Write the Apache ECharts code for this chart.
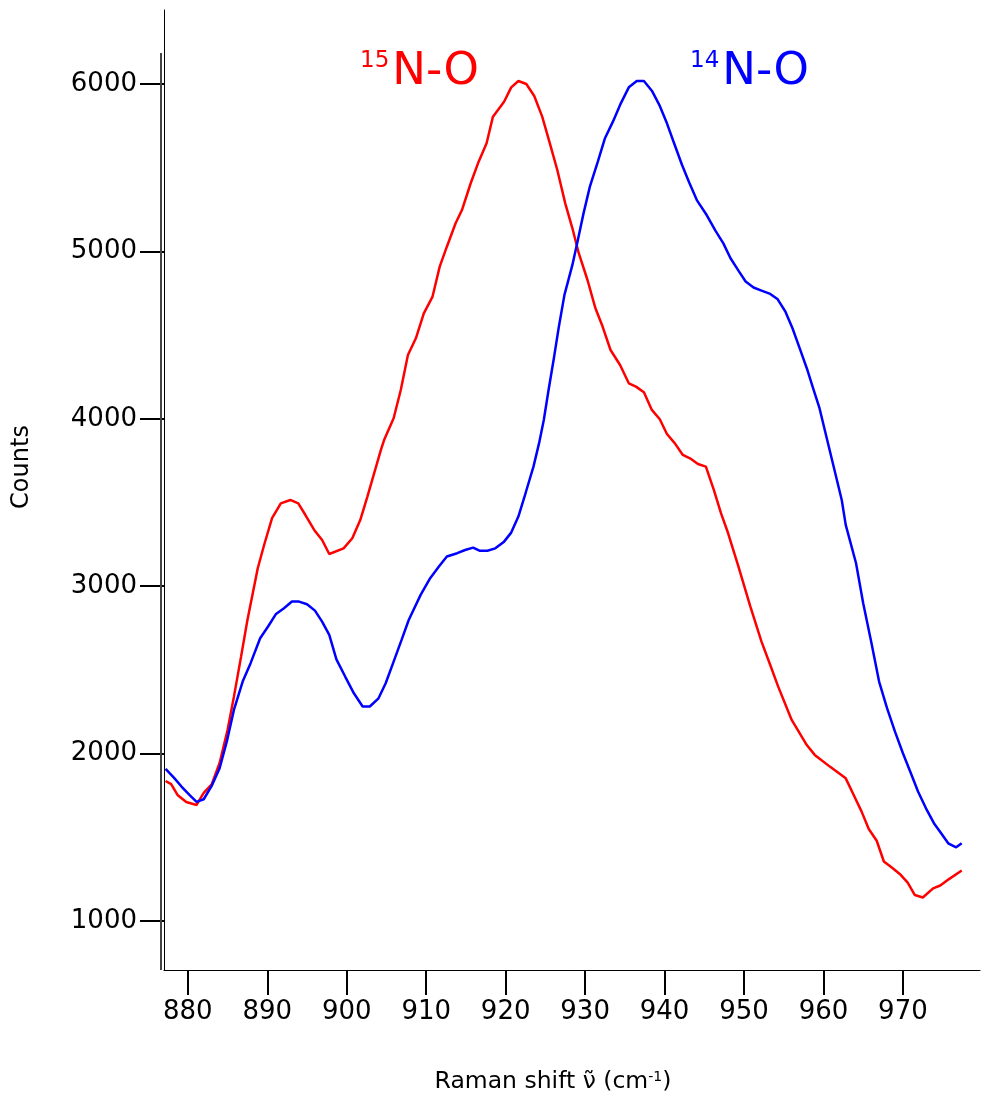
<!DOCTYPE html>
<html>
<head>
<meta charset="utf-8">
<script src="https://cdn.jsdelivr.net/npm/echarts@6/dist/echarts.min.js"></script>
<style>html,body{margin:0;padding:0;background:#fff;}#c{width:981px;height:1098px;}</style>
</head>
<body>
<div id="c"></div>
<script>
const xTicks = [880, 890, 900, 910, 920, 930, 940, 950, 960, 970];
const yTicks = [1000, 2000, 3000, 4000, 5000, 6000];

const redX = [877.2, 877.9, 878.7, 879.8, 881.1, 882.0, 883.0, 884.0, 885.0, 885.8, 886.7, 887.5, 888.8, 889.6, 890.6, 891.7, 892.9, 893.9, 894.8, 895.9, 896.9, 897.8, 899.6, 900.7, 901.7, 902.6, 903.2, 904.3, 904.7, 905.9, 906.8, 907.7, 908.7, 909.7, 910.8, 911.7, 912.6, 913.7, 914.5, 915.6, 916.6, 917.6, 918.4, 919.8, 920.7, 921.6, 922.6, 923.6, 924.6, 925.5, 926.5, 927.5, 928.4, 929.2, 930.3, 931.3, 932.2, 933.2, 934.4, 935.5, 936.4, 937.4, 938.4, 939.4, 940.3, 941.3, 942.3, 943.2, 944.2, 945.2, 946.2, 947.1, 948.0, 949.3, 950.8, 952.2, 953.3, 954.3, 956.0, 957.9, 958.9, 960.8, 962.8, 963.7, 964.8, 965.7, 966.7, 967.6, 968.6, 969.6, 970.6, 971.5, 972.5, 973.8, 974.7, 975.8, 977.4];
const redY = [1836, 1818, 1753, 1711, 1693, 1765, 1816, 1944, 2141, 2340, 2579, 2798, 3107, 3246, 3406, 3495, 3515, 3495, 3425, 3336, 3276, 3192, 3226, 3286, 3395, 3535, 3634, 3814, 3873, 4003, 4172, 4381, 4481, 4630, 4730, 4909, 5028, 5168, 5247, 5407, 5536, 5646, 5805, 5894, 5980, 6018, 6000, 5928, 5805, 5656, 5486, 5287, 5138, 4989, 4829, 4660, 4551, 4411, 4321, 4212, 4192, 4158, 4053, 3997, 3909, 3853, 3784, 3764, 3730, 3714, 3575, 3436, 3316, 3117, 2878, 2669, 2529, 2400, 2201, 2051, 1992, 1922, 1852, 1763, 1653, 1549, 1479, 1355, 1319, 1281, 1229, 1155, 1140, 1195, 1212, 1250, 1301];

const blueX = [877.2, 878.3, 879.2, 880.2, 881.1, 882.0, 883.0, 884.0, 884.9, 885.8, 886.9, 887.9, 889.1, 890.1, 891.1, 892.1, 893.1, 894.0, 895.0, 896.0, 896.9, 897.8, 898.7, 899.8, 900.9, 902.0, 902.9, 904.0, 904.9, 905.9, 906.9, 907.8, 909.3, 910.5, 911.6, 912.6, 913.9, 914.9, 915.9, 916.7, 917.7, 918.7, 919.8, 920.7, 921.6, 922.5, 923.5, 924.2, 924.8, 925.4, 926.1, 926.7, 927.4, 928.4, 929.0, 929.8, 930.6, 931.6, 932.5, 933.5, 934.4, 935.5, 936.5, 937.4, 938.4, 939.4, 940.3, 941.2, 942.2, 943.1, 944.1, 945.3, 946.4, 947.4, 948.3, 949.3, 950.2, 951.2, 952.2, 953.3, 954.2, 955.2, 956.1, 957.0, 957.9, 958.7, 959.5, 962.3, 962.8, 964.1, 965.0, 966.0, 967.0, 968.0, 969.0, 970.0, 971.0, 971.9, 972.9, 973.9, 974.9, 975.7, 976.7, 977.4];
const blueY = [1908, 1853, 1803, 1753, 1711, 1727, 1807, 1912, 2071, 2261, 2430, 2540, 2689, 2759, 2834, 2868, 2908, 2908, 2892, 2854, 2788, 2709, 2563, 2460, 2360, 2281, 2281, 2330, 2420, 2549, 2679, 2798, 2948, 3048, 3117, 3177, 3197, 3216, 3230, 3212, 3212, 3226, 3266, 3320, 3416, 3555, 3714, 3853, 3993, 4172, 4371, 4551, 4740, 4919, 5048, 5227, 5387, 5536, 5676, 5775, 5875, 5980, 6018, 6018, 5960, 5869, 5765, 5646, 5516, 5412, 5303, 5217, 5124, 5048, 4959, 4885, 4820, 4784, 4766, 4746, 4716, 4641, 4541, 4422, 4302, 4182, 4063, 3515, 3366, 3137, 2898, 2669, 2430, 2271, 2131, 2002, 1882, 1773, 1673, 1584, 1518, 1464, 1440, 1464];

const FONT = 'DejaVu Sans';
const pairs = (xs, ys) => xs.map((x, i) => [x, ys[i]]);

const chart = echarts.init(document.getElementById('c'), null, {renderer: 'canvas'});
chart.setOption({
  animation: false,
  backgroundColor: '#ffffff',
  grid: {left: 164, right: 1, top: 10, bottom: 128, containLabel: false, outerBoundsMode: 'none'},
  xAxis: {
    type: 'value', min: 877, max: 979.7,
    axisLine: {show: true, lineStyle: {color: '#000', width: 1}},
    axisTick: {show: true, length: 25, lineStyle: {color: '#000', width: 2}, customValues: xTicks},
    axisLabel: {color: '#000', fontFamily: FONT, fontSize: 26, margin: 29, customValues: xTicks,
                formatter: v => String(v)},
    splitLine: {show: false},
    name: '{a|Raman shift ν\u0303 (cm}{s|-1}{a|)}',
    nameLocation: 'middle', nameGap: 100,
    nameTextStyle: {
      padding: [0, 38, 0, 0],
      rich: {
        a: {fontFamily: FONT, fontSize: 23.5, color: '#000'},
        s: {fontFamily: FONT, fontSize: 14, color: '#000', verticalAlign: 'top', padding: [0, 0, 10, 0]}
      }
    }
  },
  yAxis: {
    type: 'value', min: 707, max: 6442,
    axisLine: {show: true, lineStyle: {color: '#000', width: 1}},
    axisTick: {show: true, length: 24, lineStyle: {color: '#000', width: 2}, customValues: yTicks},
    axisLabel: {color: '#000', fontFamily: FONT, fontSize: 26, margin: 27, customValues: yTicks,
                formatter: v => String(v)},
    splitLine: {show: false},
    name: 'Counts', nameLocation: 'middle', nameGap: 130, nameRotate: 90,
    nameTextStyle: {fontFamily: FONT, fontSize: 24, color: '#000', padding: [0, 0, 0, 46]}
  },
  graphic: [
    {type: 'line', shape: {x1: 161, y1: 53, x2: 161, y2: 970}, style: {stroke: '#444', lineWidth: 2}, z: 10},
    {type: 'text', left: 360, top: 50, style: {
      text: '{s|15}{b|N-O}', rich: {
        s: {fontFamily: FONT, fontSize: 23, fill: '#ff0000', verticalAlign: 'top', padding: [0, 3, 7, 0]},
        b: {fontFamily: FONT, fontSize: 45, fill: '#ff0000'}
      }}},
    {type: 'text', left: 690, top: 50, style: {
      text: '{s|14}{b|N-O}', rich: {
        s: {fontFamily: FONT, fontSize: 23, fill: '#0000ff', verticalAlign: 'top', padding: [0, 3, 7, 0]},
        b: {fontFamily: FONT, fontSize: 45, fill: '#0000ff'}
      }}}
  ],
  series: [
    {type: 'line', name: '15N-O', data: pairs(redX, redY), showSymbol: false, smooth: false,
     lineStyle: {color: '#ff0000', width: 2.5}, itemStyle: {color: '#ff0000'}},
    {type: 'line', name: '14N-O', data: pairs(blueX, blueY), showSymbol: false, smooth: false,
     lineStyle: {color: '#0000ff', width: 2.5}, itemStyle: {color: '#0000ff'}}
  ]
});
</script>
</body>
</html>
